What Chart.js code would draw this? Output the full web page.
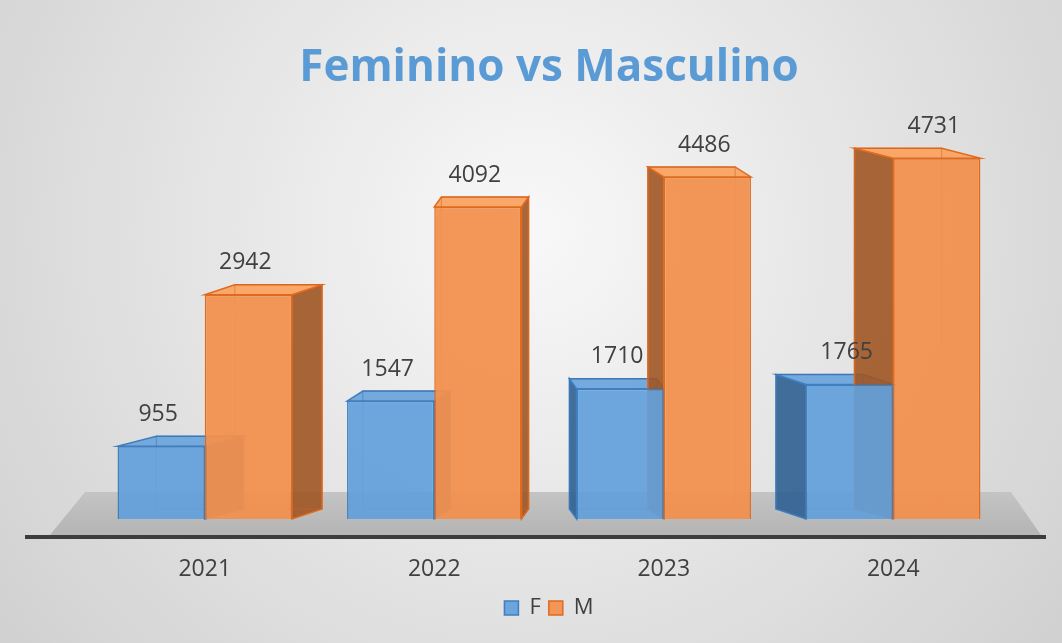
<!DOCTYPE html>
<html>
<head>
<meta charset="utf-8">
<script src="https://cdn.jsdelivr.net/npm/chart.js@4.4.1/dist/chart.umd.min.js"></script>
<style>
  html, body { margin: 0; padding: 0; background: #e6e6e6; }
  #wrap { width: 1062px; height: 643px; }
</style>
</head>
<body>
<div id="wrap"><canvas id="chart1"></canvas></div>
<script>
var years = ["2021", "2022", "2023", "2024"];
var femenino = [955, 1547, 1710, 1765];
var masculino = [2942, 4092, 4486, 4731];

// background, floor and the fake 3d sides
var depth3d = {
  id: "depth3d",
  beforeDraw: function (chart) {
    var ctx = chart.ctx;
    var g = ctx.createRadialGradient(531, 230, 20, 531, 230, 700);
    g.addColorStop(0, "#f7f7f7");
    g.addColorStop(1, "#cfcfcf");
    ctx.save();
    ctx.fillStyle = g;
    ctx.fillRect(0, 0, chart.width, chart.height);
    ctx.restore();
  },
  beforeDatasetsDraw: function (chart) {
    var ctx = chart.ctx;
    var area = chart.chartArea;
    var base = chart.scales.y.getPixelForValue(0);
    ctx.save();
    // floor
    ctx.beginPath();
    ctx.moveTo(area.left - 5, base - 27);
    ctx.lineTo(area.right + 3, base - 27);
    ctx.lineTo(area.right + 33, base + 16);
    ctx.lineTo(area.left - 40, base + 16);
    ctx.closePath();
    var fg = ctx.createLinearGradient(0, base - 27, 0, base + 16);
    fg.addColorStop(0, "#c4c4c4");
    fg.addColorStop(1, "#b4b4b4");
    ctx.fillStyle = fg;
    ctx.fill();
    ctx.fillStyle = "#3c3c3c";
    ctx.fillRect(area.left - 65, base + 16, area.right - area.left + 103, 4);

    var mid = (area.left + area.right) / 2;
    chart.data.datasets.forEach(function (ds, i) {
      var meta = chart.getDatasetMeta(i);
      meta.data.forEach(function (bar) {
        var L = bar.x - bar.width / 2, R = bar.x + bar.width / 2;
        var T = bar.y, B = bar.base;
        var dx = -0.1 * (bar.x - mid), dy = -10;
        // side face
        ctx.beginPath();
        if (dx > 0) {
          ctx.moveTo(R, T); ctx.lineTo(R + dx, T + dy);
          ctx.lineTo(R + dx, B + dy); ctx.lineTo(R, B);
        } else {
          ctx.moveTo(L, T); ctx.lineTo(L + dx, T + dy);
          ctx.lineTo(L + dx, B + dy); ctx.lineTo(L, B);
        }
        ctx.closePath();
        ctx.fillStyle = ds.sideColor;
        ctx.fill();
        ctx.strokeStyle = ds.borderColor;
        ctx.lineWidth = 1.5;
        ctx.stroke();
        // top face
        ctx.beginPath();
        ctx.moveTo(L, T); ctx.lineTo(L + dx, T + dy);
        ctx.lineTo(R + dx, T + dy); ctx.lineTo(R, T);
        ctx.closePath();
        ctx.fillStyle = ds.topColor;
        ctx.fill();
        ctx.stroke();
        // back edges seen through
        ctx.strokeStyle = ds.edgeColor;
        ctx.lineWidth = 1;
        ctx.strokeRect(L + dx, T + dy, R - L, B - T);
      });
    });
    ctx.restore();
  },
  afterDatasetsDraw: function (chart) {
    var ctx = chart.ctx;
    ctx.save();
    ctx.font = "23px 'Open Sans'";
    ctx.fillStyle = "#404040";
    ctx.textAlign = "center";
    ctx.textBaseline = "middle";
    chart.data.datasets.forEach(function (ds, i) {
      var meta = chart.getDatasetMeta(i);
      meta.data.forEach(function (bar, j) {
        ctx.fillText(ds.data[j], bar.x - 3, bar.y - 32);
      });
    });
    ctx.restore();
  }
};

var ctx = document.getElementById("chart1");
var myChart = new Chart(ctx, {
  type: "bar",
  data: {
    labels: years,
    datasets: [
      {
        label: "F",
        data: femenino,
        backgroundColor: "rgba(98, 160, 218, 0.92)",
        borderColor: "#3f7fc0",
        borderWidth: 1.5,
        sideColor: "rgba(45, 95, 145, 0.9)",
        topColor: "rgba(110, 165, 220, 0.95)",
        edgeColor: "rgba(60, 110, 170, 0.5)",
      },
      {
        label: "M",
        data: masculino,
        backgroundColor: "rgba(242, 144, 78, 0.94)",
        borderColor: "#e06a1e",
        borderWidth: 1.5,
        sideColor: "rgba(160, 85, 35, 0.9)",
        topColor: "rgba(250, 165, 100, 0.97)",
        edgeColor: "rgba(205, 100, 35, 0.55)",
      },
    ],
  },
  options: {
    responsive: true,
    maintainAspectRatio: false,
    animation: false,
    layout: { padding: { left: 90, right: 54, top: 0, bottom: 14 } },
    datasets: {
      bar: { categoryPercentage: 0.76, barPercentage: 1.0 },
    },
    scales: {
      x: {
        grid: { display: false, drawTicks: false },
        border: { display: false },
        ticks: { color: "#404040", font: { family: "'Open Sans'", size: 23 }, padding: 37 },
        afterFit: function (scale) { scale.height = 70; },
      },
      y: { display: false, min: 0, max: 5000 },
    },
    plugins: {
      title: {
        display: true,
        text: "Feminino vs Masculino",
        color: "#5b9bd5",
        font: { family: "'Open Sans'", size: 44, weight: "bold" },
        padding: { top: 42, bottom: 43 },
      },
      legend: {
        position: "bottom",
        labels: {
          color: "#404040",
          font: { family: "'Open Sans'", size: 22 },
          boxWidth: 14,
          boxHeight: 14,
          padding: 8,
        },
      },
      tooltip: { enabled: false },
    },
  },
  plugins: [depth3d],
});
</script>
</body>
</html>
